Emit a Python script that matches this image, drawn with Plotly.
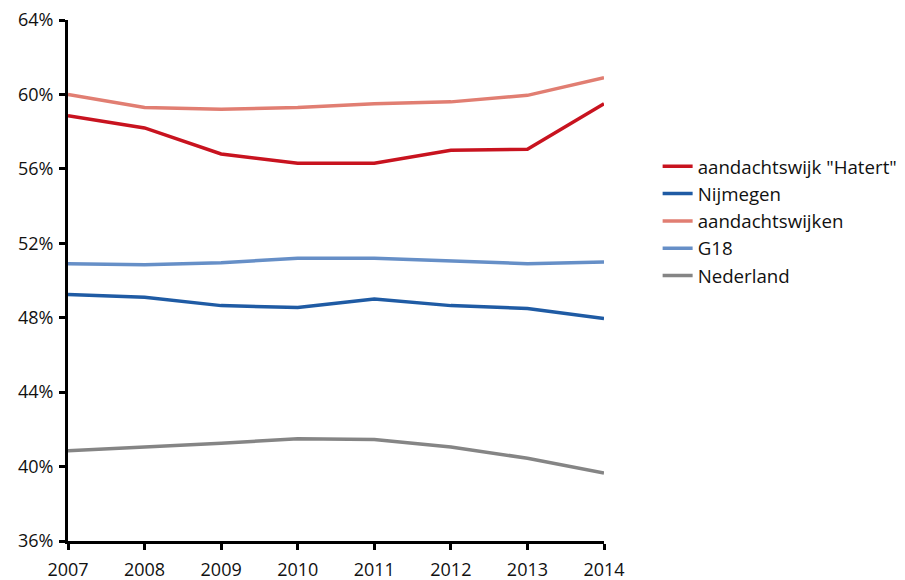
import plotly.graph_objects as go

years = [2007, 2008, 2009, 2010, 2011, 2012, 2013, 2014]
hatert = [58.85, 58.2, 56.8, 56.3, 56.3, 57.0, 57.05, 59.5]
nijmegen = [49.25, 49.1, 48.65, 48.55, 49.0, 48.65, 48.5, 47.95]
aandachtswijken = [60.0, 59.3, 59.2, 59.3, 59.5, 59.6, 59.95, 60.9]
g18 = [50.9, 50.85, 50.95, 51.2, 51.2, 51.05, 50.9, 51.0]
nederland = [40.85, 41.05, 41.25, 41.5, 41.45, 41.05, 40.45, 39.65]

names = ['aandachtswijk "Hatert"', "Nijmegen", "aandachtswijken", "G18", "Nederland"]
series = [hatert, nijmegen, aandachtswijken, g18, nederland]
colors = ["#C8131F", "#1F5BA4", "#E17E72", "#668FC7", "#858585"]

fig = go.Figure()
for n, s, c in zip(names, series, colors):
    fig.add_trace(go.Scatter(x=years, y=s, name=n, mode="lines",
                             line=dict(color=c, width=3.5)))

fig.update_layout(
    width=905, height=580,
    margin=dict(l=60, r=308, t=12, b=47),
    plot_bgcolor="white", paper_bgcolor="white",
    font=dict(family="Open Sans, DejaVu Sans, sans-serif", size=18, color="#111"),
    showlegend=True,
    legend=dict(x=1.098, y=0.614, xanchor="left", yanchor="middle",
                font=dict(size=18.7), itemwidth=30, bgcolor="rgba(0,0,0,0)"),
)
fig.update_xaxes(range=[2007, 2014], tickmode="array", tickvals=years,
                 ticktext=[str(y) for y in years], automargin=False,
                 ticklabeloverflow="allow", ticklabelstandoff=4,
                 showline=True, linecolor="black", linewidth=3,
                 ticks="outside", ticklen=6, tickwidth=3, tickcolor="black",
                 showgrid=False, zeroline=False)
fig.update_yaxes(range=[36, 64], dtick=4, tick0=36, ticksuffix="%", automargin=False,
                 ticklabeloverflow="allow", ticklabelstandoff=2,
                 showline=True, linecolor="black", linewidth=3,
                 ticks="outside", ticklen=6, tickwidth=3, tickcolor="black",
                 showgrid=False, zeroline=False)

fig.write_html("out.html")
